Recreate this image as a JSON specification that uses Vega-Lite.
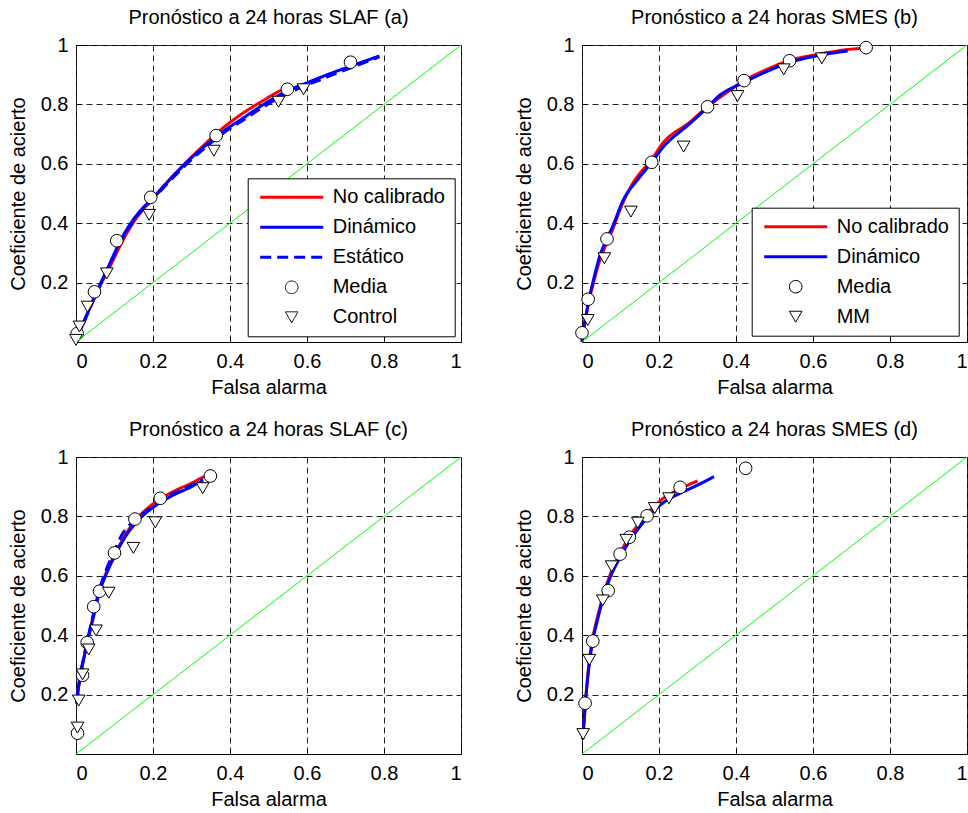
{
  "$schema": "https://vega.github.io/schema/vega-lite/v6.json",
  "autosize": {"type": "pad"},
  "padding": {"left": 7, "top": 7, "right": 0, "bottom": 0},
  "background": "white",
  "datasets": {
    "diag": [{"x": 0, "y": 0}, {"x": 1, "y": 1}],
    "a": [
      {"serie": "No calibrado", "x": 0.002, "y": 0.012}, {"serie": "No calibrado", "x": 0.026, "y": 0.085}, {"serie": "No calibrado", "x": 0.052, "y": 0.162}, {"serie": "No calibrado", "x": 0.085, "y": 0.245}, {"serie": "No calibrado", "x": 0.125, "y": 0.35}, {"serie": "No calibrado", "x": 0.167, "y": 0.435}, {"serie": "No calibrado", "x": 0.2, "y": 0.482}, {"serie": "No calibrado", "x": 0.242, "y": 0.545}, {"serie": "No calibrado", "x": 0.294, "y": 0.615}, {"serie": "No calibrado", "x": 0.338, "y": 0.67}, {"serie": "No calibrado", "x": 0.381, "y": 0.72}, {"serie": "No calibrado", "x": 0.433, "y": 0.77}, {"serie": "No calibrado", "x": 0.485, "y": 0.812}, {"serie": "No calibrado", "x": 0.537, "y": 0.85}, {"serie": "No calibrado", "x": 0.56, "y": 0.86},
      {"serie": "Dinámico", "x": 0.002, "y": 0.012}, {"serie": "Dinámico", "x": 0.026, "y": 0.085}, {"serie": "Dinámico", "x": 0.052, "y": 0.164}, {"serie": "Dinámico", "x": 0.082, "y": 0.248}, {"serie": "Dinámico", "x": 0.121, "y": 0.355}, {"serie": "Dinámico", "x": 0.165, "y": 0.439}, {"serie": "Dinámico", "x": 0.199, "y": 0.484}, {"serie": "Dinámico", "x": 0.242, "y": 0.545}, {"serie": "Dinámico", "x": 0.294, "y": 0.613}, {"serie": "Dinámico", "x": 0.338, "y": 0.663}, {"serie": "Dinámico", "x": 0.381, "y": 0.708}, {"serie": "Dinámico", "x": 0.433, "y": 0.753}, {"serie": "Dinámico", "x": 0.485, "y": 0.798}, {"serie": "Dinámico", "x": 0.545, "y": 0.843}, {"serie": "Dinámico", "x": 0.606, "y": 0.876}, {"serie": "Dinámico", "x": 0.667, "y": 0.907}, {"serie": "Dinámico", "x": 0.727, "y": 0.935}, {"serie": "Dinámico", "x": 0.788, "y": 0.963},
      {"serie": "Estático", "x": 0.002, "y": 0.012}, {"serie": "Estático", "x": 0.026, "y": 0.083}, {"serie": "Estático", "x": 0.052, "y": 0.16}, {"serie": "Estático", "x": 0.082, "y": 0.244}, {"serie": "Estático", "x": 0.121, "y": 0.35}, {"serie": "Estático", "x": 0.165, "y": 0.434}, {"serie": "Estático", "x": 0.199, "y": 0.48}, {"serie": "Estático", "x": 0.242, "y": 0.54}, {"serie": "Estático", "x": 0.294, "y": 0.607}, {"serie": "Estático", "x": 0.338, "y": 0.657}, {"serie": "Estático", "x": 0.381, "y": 0.702}, {"serie": "Estático", "x": 0.433, "y": 0.746}, {"serie": "Estático", "x": 0.485, "y": 0.79}, {"serie": "Estático", "x": 0.545, "y": 0.834}, {"serie": "Estático", "x": 0.606, "y": 0.868}, {"serie": "Estático", "x": 0.667, "y": 0.9}, {"serie": "Estático", "x": 0.727, "y": 0.93}, {"serie": "Estático", "x": 0.788, "y": 0.96},
      {"serie": "Media", "x": 0.003, "y": 0.028}, {"serie": "Media", "x": 0.048, "y": 0.169}, {"serie": "Media", "x": 0.106, "y": 0.341}, {"serie": "Media", "x": 0.194, "y": 0.487}, {"serie": "Media", "x": 0.364, "y": 0.695}, {"serie": "Media", "x": 0.549, "y": 0.851}, {"serie": "Media", "x": 0.713, "y": 0.942},
      {"serie": "Control", "x": 0.0, "y": 0.007}, {"serie": "Control", "x": 0.009, "y": 0.052}, {"serie": "Control", "x": 0.03, "y": 0.119}, {"serie": "Control", "x": 0.08, "y": 0.231}, {"serie": "Control", "x": 0.19, "y": 0.428}, {"serie": "Control", "x": 0.358, "y": 0.644}, {"serie": "Control", "x": 0.526, "y": 0.809}, {"serie": "Control", "x": 0.591, "y": 0.851}
    ],
    "b": [
      {"serie": "No calibrado", "x": 0.0, "y": 0.0}, {"serie": "No calibrado", "x": 0.005, "y": 0.05}, {"serie": "No calibrado", "x": 0.012, "y": 0.1}, {"serie": "No calibrado", "x": 0.02, "y": 0.15}, {"serie": "No calibrado", "x": 0.03, "y": 0.2}, {"serie": "No calibrado", "x": 0.045, "y": 0.27}, {"serie": "No calibrado", "x": 0.06, "y": 0.32}, {"serie": "No calibrado", "x": 0.08, "y": 0.38}, {"serie": "No calibrado", "x": 0.1, "y": 0.45}, {"serie": "No calibrado", "x": 0.13, "y": 0.53}, {"serie": "No calibrado", "x": 0.184, "y": 0.62}, {"serie": "No calibrado", "x": 0.21, "y": 0.67}, {"serie": "No calibrado", "x": 0.28, "y": 0.74}, {"serie": "No calibrado", "x": 0.326, "y": 0.792}, {"serie": "No calibrado", "x": 0.36, "y": 0.825}, {"serie": "No calibrado", "x": 0.421, "y": 0.88}, {"serie": "No calibrado", "x": 0.47, "y": 0.912}, {"serie": "No calibrado", "x": 0.54, "y": 0.948}, {"serie": "No calibrado", "x": 0.61, "y": 0.968}, {"serie": "No calibrado", "x": 0.69, "y": 0.985}, {"serie": "No calibrado", "x": 0.74, "y": 0.99},
      {"serie": "Dinámico", "x": 0.0, "y": 0.0}, {"serie": "Dinámico", "x": 0.005, "y": 0.05}, {"serie": "Dinámico", "x": 0.012, "y": 0.1}, {"serie": "Dinámico", "x": 0.02, "y": 0.155}, {"serie": "Dinámico", "x": 0.03, "y": 0.21}, {"serie": "Dinámico", "x": 0.045, "y": 0.285}, {"serie": "Dinámico", "x": 0.06, "y": 0.335}, {"serie": "Dinámico", "x": 0.08, "y": 0.39}, {"serie": "Dinámico", "x": 0.106, "y": 0.475}, {"serie": "Dinámico", "x": 0.15, "y": 0.555}, {"serie": "Dinámico", "x": 0.184, "y": 0.61}, {"serie": "Dinámico", "x": 0.21, "y": 0.655}, {"serie": "Dinámico", "x": 0.28, "y": 0.735}, {"serie": "Dinámico", "x": 0.326, "y": 0.79}, {"serie": "Dinámico", "x": 0.357, "y": 0.83}, {"serie": "Dinámico", "x": 0.421, "y": 0.874}, {"serie": "Dinámico", "x": 0.47, "y": 0.905}, {"serie": "Dinámico", "x": 0.54, "y": 0.942}, {"serie": "Dinámico", "x": 0.61, "y": 0.964}, {"serie": "Dinámico", "x": 0.69, "y": 0.98},
      {"serie": "Media", "x": 0.0, "y": 0.031}, {"serie": "Media", "x": 0.016, "y": 0.144}, {"serie": "Media", "x": 0.065, "y": 0.347}, {"serie": "Media", "x": 0.181, "y": 0.605}, {"serie": "Media", "x": 0.326, "y": 0.792}, {"serie": "Media", "x": 0.421, "y": 0.88}, {"serie": "Media", "x": 0.539, "y": 0.947}, {"serie": "Media", "x": 0.738, "y": 0.991},
      {"serie": "MM", "x": 0.015, "y": 0.074}, {"serie": "MM", "x": 0.058, "y": 0.282}, {"serie": "MM", "x": 0.127, "y": 0.439}, {"serie": "MM", "x": 0.264, "y": 0.658}, {"serie": "MM", "x": 0.404, "y": 0.828}, {"serie": "MM", "x": 0.524, "y": 0.918}, {"serie": "MM", "x": 0.623, "y": 0.955}
    ],
    "c": [
      {"serie": "No calibrado", "x": 0.002, "y": 0.17}, {"serie": "No calibrado", "x": 0.006, "y": 0.22}, {"serie": "No calibrado", "x": 0.012, "y": 0.27}, {"serie": "No calibrado", "x": 0.02, "y": 0.32}, {"serie": "No calibrado", "x": 0.03, "y": 0.38}, {"serie": "No calibrado", "x": 0.045, "y": 0.465}, {"serie": "No calibrado", "x": 0.06, "y": 0.545}, {"serie": "No calibrado", "x": 0.08, "y": 0.615}, {"serie": "No calibrado", "x": 0.1, "y": 0.67}, {"serie": "No calibrado", "x": 0.13, "y": 0.742}, {"serie": "No calibrado", "x": 0.16, "y": 0.795}, {"serie": "No calibrado", "x": 0.2, "y": 0.842}, {"serie": "No calibrado", "x": 0.25, "y": 0.882}, {"serie": "No calibrado", "x": 0.3, "y": 0.912}, {"serie": "No calibrado", "x": 0.333, "y": 0.935},
      {"serie": "Dinámico", "x": 0.002, "y": 0.17}, {"serie": "Dinámico", "x": 0.006, "y": 0.22}, {"serie": "Dinámico", "x": 0.012, "y": 0.27}, {"serie": "Dinámico", "x": 0.02, "y": 0.32}, {"serie": "Dinámico", "x": 0.03, "y": 0.38}, {"serie": "Dinámico", "x": 0.045, "y": 0.46}, {"serie": "Dinámico", "x": 0.06, "y": 0.54}, {"serie": "Dinámico", "x": 0.08, "y": 0.61}, {"serie": "Dinámico", "x": 0.1, "y": 0.665}, {"serie": "Dinámico", "x": 0.13, "y": 0.735}, {"serie": "Dinámico", "x": 0.16, "y": 0.785}, {"serie": "Dinámico", "x": 0.2, "y": 0.83}, {"serie": "Dinámico", "x": 0.25, "y": 0.87}, {"serie": "Dinámico", "x": 0.3, "y": 0.9}, {"serie": "Dinámico", "x": 0.33, "y": 0.922},
      {"serie": "Estático", "x": 0.002, "y": 0.17}, {"serie": "Estático", "x": 0.006, "y": 0.22}, {"serie": "Estático", "x": 0.012, "y": 0.27}, {"serie": "Estático", "x": 0.02, "y": 0.325}, {"serie": "Estático", "x": 0.03, "y": 0.385}, {"serie": "Estático", "x": 0.045, "y": 0.47}, {"serie": "Estático", "x": 0.06, "y": 0.55}, {"serie": "Estático", "x": 0.08, "y": 0.625}, {"serie": "Estático", "x": 0.1, "y": 0.685}, {"serie": "Estático", "x": 0.12, "y": 0.74}, {"serie": "Estático", "x": 0.14, "y": 0.772}, {"serie": "Estático", "x": 0.17, "y": 0.805}, {"serie": "Estático", "x": 0.2, "y": 0.835}, {"serie": "Estático", "x": 0.25, "y": 0.875}, {"serie": "Estático", "x": 0.3, "y": 0.905}, {"serie": "Estático", "x": 0.33, "y": 0.925},
      {"serie": "Media", "x": 0.004, "y": 0.07}, {"serie": "Media", "x": 0.017, "y": 0.265}, {"serie": "Media", "x": 0.029, "y": 0.375}, {"serie": "Media", "x": 0.046, "y": 0.496}, {"serie": "Media", "x": 0.061, "y": 0.548}, {"serie": "Media", "x": 0.1, "y": 0.677}, {"serie": "Media", "x": 0.153, "y": 0.791}, {"serie": "Media", "x": 0.219, "y": 0.861}, {"serie": "Media", "x": 0.349, "y": 0.936},
      {"serie": "Control", "x": 0.004, "y": 0.089}, {"serie": "Control", "x": 0.007, "y": 0.18}, {"serie": "Control", "x": 0.017, "y": 0.268}, {"serie": "Control", "x": 0.033, "y": 0.352}, {"serie": "Control", "x": 0.052, "y": 0.416}, {"serie": "Control", "x": 0.085, "y": 0.543}, {"serie": "Control", "x": 0.149, "y": 0.694}, {"serie": "Control", "x": 0.206, "y": 0.78}, {"serie": "Control", "x": 0.329, "y": 0.895}
    ],
    "d": [
      {"serie": "No calibrado", "x": 0.002, "y": 0.05}, {"serie": "No calibrado", "x": 0.006, "y": 0.12}, {"serie": "No calibrado", "x": 0.01, "y": 0.19}, {"serie": "No calibrado", "x": 0.016, "y": 0.28}, {"serie": "No calibrado", "x": 0.025, "y": 0.37}, {"serie": "No calibrado", "x": 0.04, "y": 0.46}, {"serie": "No calibrado", "x": 0.055, "y": 0.535}, {"serie": "No calibrado", "x": 0.075, "y": 0.61}, {"serie": "No calibrado", "x": 0.1, "y": 0.68}, {"serie": "No calibrado", "x": 0.125, "y": 0.735}, {"serie": "No calibrado", "x": 0.15, "y": 0.78}, {"serie": "No calibrado", "x": 0.18, "y": 0.825}, {"serie": "No calibrado", "x": 0.21, "y": 0.86}, {"serie": "No calibrado", "x": 0.25, "y": 0.89}, {"serie": "No calibrado", "x": 0.3, "y": 0.92},
      {"serie": "Dinámico", "x": 0.002, "y": 0.05}, {"serie": "Dinámico", "x": 0.006, "y": 0.12}, {"serie": "Dinámico", "x": 0.01, "y": 0.19}, {"serie": "Dinámico", "x": 0.016, "y": 0.27}, {"serie": "Dinámico", "x": 0.025, "y": 0.36}, {"serie": "Dinámico", "x": 0.04, "y": 0.45}, {"serie": "Dinámico", "x": 0.055, "y": 0.525}, {"serie": "Dinámico", "x": 0.075, "y": 0.6}, {"serie": "Dinámico", "x": 0.1, "y": 0.665}, {"serie": "Dinámico", "x": 0.125, "y": 0.72}, {"serie": "Dinámico", "x": 0.15, "y": 0.765}, {"serie": "Dinámico", "x": 0.18, "y": 0.81}, {"serie": "Dinámico", "x": 0.21, "y": 0.845}, {"serie": "Dinámico", "x": 0.25, "y": 0.875}, {"serie": "Dinámico", "x": 0.3, "y": 0.905}, {"serie": "Dinámico", "x": 0.343, "y": 0.934},
      {"serie": "Media", "x": 0.008, "y": 0.171}, {"serie": "Media", "x": 0.028, "y": 0.38}, {"serie": "Media", "x": 0.068, "y": 0.55}, {"serie": "Media", "x": 0.099, "y": 0.673}, {"serie": "Media", "x": 0.123, "y": 0.73}, {"serie": "Media", "x": 0.169, "y": 0.802}, {"serie": "Media", "x": 0.255, "y": 0.898}, {"serie": "Media", "x": 0.425, "y": 0.962},
      {"serie": "MM", "x": 0.003, "y": 0.067}, {"serie": "MM", "x": 0.019, "y": 0.317}, {"serie": "MM", "x": 0.054, "y": 0.517}, {"serie": "MM", "x": 0.077, "y": 0.632}, {"serie": "MM", "x": 0.115, "y": 0.721}, {"serie": "MM", "x": 0.145, "y": 0.779}, {"serie": "MM", "x": 0.189, "y": 0.828}, {"serie": "MM", "x": 0.226, "y": 0.861}
    ]
  },
  "columns": 2,
  "spacing": {"column": 121, "row": 115},
  "bounds": "flush",
  "resolve": {
    "scale": {"stroke": "independent", "strokeDash": "independent", "shape": "independent"},
    "legend": {"stroke": "independent", "strokeDash": "independent", "shape": "independent"}
  },
  "concat": [
    {
      "title": {"text": "Pronóstico a 24 horas SLAF (a)"},
      "width": 385, "height": 297,
      "data": {"name": "a"},
      "layer": [
        {
          "transform": [{"filter": {"field": "serie", "oneOf": ["No calibrado", "Dinámico", "Estático"]}}],
          "mark": {"type": "line", "interpolate": "monotone", "strokeWidth": 3},
          "encoding": {
            "x": {"field": "x", "type": "quantitative", "scale": {"domain": [0, 1], "nice": false}, "axis": {"title": "Falsa alarma", "values": [0, 0.2, 0.4, 0.6, 0.8, 1], "format": "~g"}},
            "y": {"field": "y", "type": "quantitative", "scale": {"domain": [0, 1], "nice": false}, "axis": {"title": "Coeficiente de acierto", "values": [0.2, 0.4, 0.6, 0.8, 1], "format": "~g"}},
            "stroke": {"field": "serie", "type": "nominal", "scale": {"domain": ["No calibrado", "Dinámico", "Estático", "Media", "Control"], "range": ["#ff0000", "#0000ff", "#0000ff", "black", "black"]},
              "legend": {"title": null, "orient": "none", "legendX": 171.7, "legendY": 133.3, "padding": 9, "strokeColor": "black", "fillColor": "white", "labelFontSize": 20, "labelColor": "black", "symbolSize": 3969, "symbolStrokeWidth": 3, "rowPadding": 10, "labelOffset": 31, "symbolOffset": 25,
                "encode": {"symbols": {"update": {"size": {"signal": "indexof(['Media','Control','MM'], datum.value) >= 0 ? 160 : 3969"}, "strokeWidth": {"signal": "indexof(['Media','Control','MM'], datum.value) >= 0 ? 1 : 3"}, "fill": {"value": "white"}, "opacity": {"value": 1}}}}}},
            "strokeDash": {"field": "serie", "type": "nominal", "scale": {"domain": ["No calibrado", "Dinámico", "Estático", "Media", "Control"], "range": [[1, 0], [1, 0], [11, 6], [1, 0], [1, 0]]},
              "legend": {"title": null, "orient": "none", "legendX": 171.7, "legendY": 133.3}}
          }
        },
        {
          "transform": [{"filter": {"field": "serie", "oneOf": ["Media", "Control"]}}],
          "mark": {"type": "point", "filled": true, "fill": "white", "size": 160, "strokeWidth": 1, "opacity": 1},
          "encoding": {
            "x": {"field": "x", "type": "quantitative"},
            "y": {"field": "y", "type": "quantitative"},
            "stroke": {"field": "serie", "type": "nominal"},
            "shape": {"field": "serie", "type": "nominal", "scale": {"domain": ["No calibrado", "Dinámico", "Estático", "Media", "Control"], "range": ["stroke", "stroke", "stroke", "circle", "triangle-down"]},
              "legend": {"title": null, "orient": "none", "legendX": 171.7, "legendY": 133.3}}
          }
        },
        {
          "data": {"name": "diag"},
          "mark": {"type": "line", "stroke": "#00ff00", "strokeWidth": 1},
          "encoding": {"x": {"field": "x", "type": "quantitative"}, "y": {"field": "y", "type": "quantitative"}}
        }
      ]
    },
    {
      "title": {"text": "Pronóstico a 24 horas SMES (b)"},
      "width": 385, "height": 297,
      "data": {"name": "b"},
      "layer": [
        {
          "transform": [{"filter": {"field": "serie", "oneOf": ["No calibrado", "Dinámico"]}}],
          "mark": {"type": "line", "interpolate": "monotone", "strokeWidth": 3},
          "encoding": {
            "x": {"field": "x", "type": "quantitative", "scale": {"domain": [0, 1], "nice": false}, "axis": {"title": "Falsa alarma", "values": [0, 0.2, 0.4, 0.6, 0.8, 1], "format": "~g"}},
            "y": {"field": "y", "type": "quantitative", "scale": {"domain": [0, 1], "nice": false}, "axis": {"title": "Coeficiente de acierto", "values": [0.2, 0.4, 0.6, 0.8, 1], "format": "~g"}},
            "stroke": {"field": "serie", "type": "nominal", "scale": {"domain": ["No calibrado", "Dinámico", "Media", "MM"], "range": ["#ff0000", "#0000ff", "black", "black"]},
              "legend": {"title": null, "orient": "none", "legendX": 169.7, "legendY": 162.7, "padding": 9, "strokeColor": "black", "fillColor": "white", "labelFontSize": 20, "labelColor": "black", "symbolSize": 3969, "symbolStrokeWidth": 3, "rowPadding": 10, "labelOffset": 31, "symbolOffset": 25,
                "encode": {"symbols": {"update": {"size": {"signal": "indexof(['Media','Control','MM'], datum.value) >= 0 ? 160 : 3969"}, "strokeWidth": {"signal": "indexof(['Media','Control','MM'], datum.value) >= 0 ? 1 : 3"}, "fill": {"value": "white"}, "opacity": {"value": 1}}}}}}
          }
        },
        {
          "transform": [{"filter": {"field": "serie", "oneOf": ["Media", "MM"]}}],
          "mark": {"type": "point", "filled": true, "fill": "white", "size": 160, "strokeWidth": 1, "opacity": 1},
          "encoding": {
            "x": {"field": "x", "type": "quantitative"},
            "y": {"field": "y", "type": "quantitative"},
            "stroke": {"field": "serie", "type": "nominal"},
            "shape": {"field": "serie", "type": "nominal", "scale": {"domain": ["No calibrado", "Dinámico", "Media", "MM"], "range": ["stroke", "stroke", "circle", "triangle-down"]},
              "legend": {"title": null, "orient": "none", "legendX": 169.7, "legendY": 162.7}}
          }
        },
        {
          "data": {"name": "diag"},
          "mark": {"type": "line", "stroke": "#00ff00", "strokeWidth": 1},
          "encoding": {"x": {"field": "x", "type": "quantitative"}, "y": {"field": "y", "type": "quantitative"}}
        }
      ]
    },
    {
      "title": {"text": "Pronóstico a 24 horas SLAF (c)"},
      "width": 385, "height": 297,
      "data": {"name": "c"},
      "layer": [
        {
          "transform": [{"filter": {"field": "serie", "oneOf": ["No calibrado", "Dinámico", "Estático"]}}],
          "mark": {"type": "line", "interpolate": "monotone", "strokeWidth": 3},
          "encoding": {
            "x": {"field": "x", "type": "quantitative", "scale": {"domain": [0, 1], "nice": false}, "axis": {"title": "Falsa alarma", "values": [0, 0.2, 0.4, 0.6, 0.8, 1], "format": "~g"}},
            "y": {"field": "y", "type": "quantitative", "scale": {"domain": [0, 1], "nice": false}, "axis": {"title": "Coeficiente de acierto", "values": [0.2, 0.4, 0.6, 0.8, 1], "format": "~g"}},
            "stroke": {"field": "serie", "type": "nominal", "scale": {"domain": ["No calibrado", "Dinámico", "Estático", "Media", "Control"], "range": ["#ff0000", "#0000ff", "#0000ff", "black", "black"]}, "legend": null},
            "strokeDash": {"field": "serie", "type": "nominal", "scale": {"domain": ["No calibrado", "Dinámico", "Estático", "Media", "Control"], "range": [[1, 0], [1, 0], [11, 6], [1, 0], [1, 0]]}, "legend": null}
          }
        },
        {
          "transform": [{"filter": {"field": "serie", "oneOf": ["Media", "Control"]}}],
          "mark": {"type": "point", "filled": true, "fill": "white", "size": 160, "strokeWidth": 1, "opacity": 1},
          "encoding": {
            "x": {"field": "x", "type": "quantitative"},
            "y": {"field": "y", "type": "quantitative"},
            "stroke": {"field": "serie", "type": "nominal", "legend": null},
            "shape": {"field": "serie", "type": "nominal", "scale": {"domain": ["No calibrado", "Dinámico", "Estático", "Media", "Control"], "range": ["stroke", "stroke", "stroke", "circle", "triangle-down"]}, "legend": null}
          }
        },
        {
          "data": {"name": "diag"},
          "mark": {"type": "line", "stroke": "#00ff00", "strokeWidth": 1},
          "encoding": {"x": {"field": "x", "type": "quantitative"}, "y": {"field": "y", "type": "quantitative"}}
        }
      ]
    },
    {
      "title": {"text": "Pronóstico a 24 horas SMES (d)"},
      "width": 385, "height": 297,
      "data": {"name": "d"},
      "layer": [
        {
          "transform": [{"filter": {"field": "serie", "oneOf": ["No calibrado", "Dinámico"]}}],
          "mark": {"type": "line", "interpolate": "monotone", "strokeWidth": 3},
          "encoding": {
            "x": {"field": "x", "type": "quantitative", "scale": {"domain": [0, 1], "nice": false}, "axis": {"title": "Falsa alarma", "values": [0, 0.2, 0.4, 0.6, 0.8, 1], "format": "~g"}},
            "y": {"field": "y", "type": "quantitative", "scale": {"domain": [0, 1], "nice": false}, "axis": {"title": "Coeficiente de acierto", "values": [0.2, 0.4, 0.6, 0.8, 1], "format": "~g"}},
            "stroke": {"field": "serie", "type": "nominal", "scale": {"domain": ["No calibrado", "Dinámico", "Media", "MM"], "range": ["#ff0000", "#0000ff", "black", "black"]}, "legend": null}
          }
        },
        {
          "transform": [{"filter": {"field": "serie", "oneOf": ["Media", "MM"]}}],
          "mark": {"type": "point", "filled": true, "fill": "white", "size": 160, "strokeWidth": 1, "opacity": 1},
          "encoding": {
            "x": {"field": "x", "type": "quantitative"},
            "y": {"field": "y", "type": "quantitative"},
            "stroke": {"field": "serie", "type": "nominal", "legend": null},
            "shape": {"field": "serie", "type": "nominal", "scale": {"domain": ["No calibrado", "Dinámico", "Media", "MM"], "range": ["stroke", "stroke", "circle", "triangle-down"]}, "legend": null}
          }
        },
        {
          "data": {"name": "diag"},
          "mark": {"type": "line", "stroke": "#00ff00", "strokeWidth": 1},
          "encoding": {"x": {"field": "x", "type": "quantitative"}, "y": {"field": "y", "type": "quantitative"}}
        }
      ]
    }
  ],
  "config": {
    "font": "Liberation Sans",
    "view": {"stroke": "black", "strokeWidth": 1},
    "axis": {
      "labelFont": "Liberation Sans", "labelFontSize": 20, "labelColor": "black",
      "titleFont": "Liberation Sans", "titleFontSize": 20, "titleFontWeight": "normal", "titleColor": "black",
      "domain": false, "ticks": true, "tickSize": -5, "tickColor": "black", "tickWidth": 1, "grid": true, "gridColor": "#222222", "gridDash": [6, 4], "gridOpacity": 1, "gridWidth": 1
    },
    "axisX": {"labelPadding": 14.5, "titlePadding": 6},
    "axisY": {"labelPadding": 13, "titlePadding": 12},
    "legend": {"labelFont": "Liberation Sans"},
    "title": {"font": "Liberation Sans", "fontSize": 20, "fontWeight": "normal", "color": "black", "anchor": "middle", "frame": "group", "baseline": "alphabetic", "offset": 7}
  }
}
